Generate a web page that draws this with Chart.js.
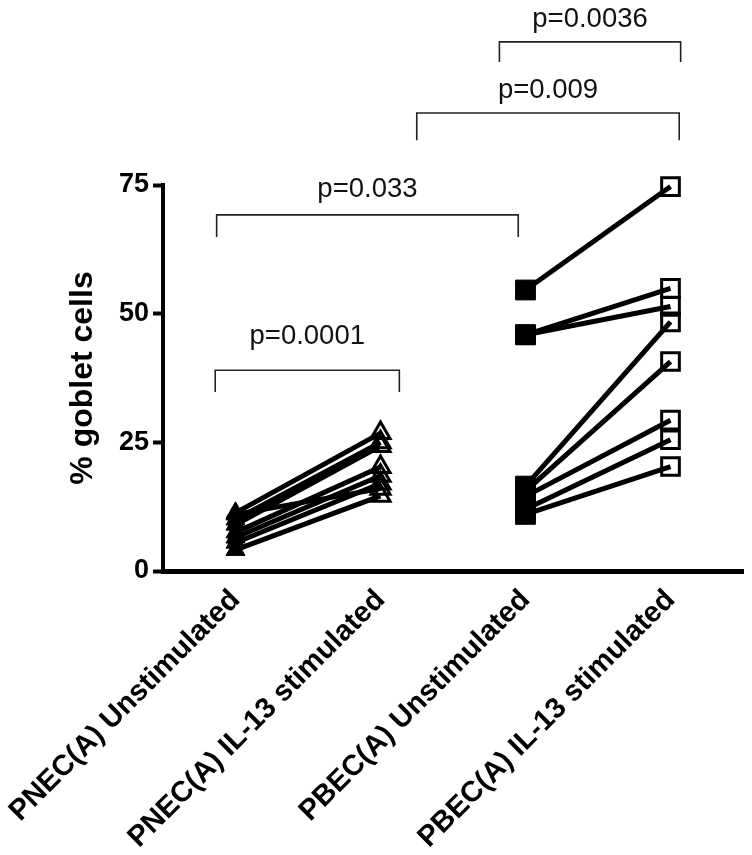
<!DOCTYPE html>
<html>
<head>
<meta charset="utf-8">
<script src="https://cdn.jsdelivr.net/npm/chart.js@4.4.1/dist/chart.umd.min.js"></script>
<style>
  html, body { margin: 0; padding: 0; background: #fff; overflow: hidden; width: 752px; height: 855px; }
  #wrap { position: absolute; left: 0; top: 0; width: 752px; height: 855px; }
  canvas { display: block; }
</style>
</head>
<body>
<div id="wrap"><canvas id="c"></canvas></div>
<script>
// ---- data ----
const categories = ["PNEC(A) Unstimulated", "PNEC(A) IL-13 stimulated", "PBEC(A) Unstimulated", "PBEC(A) IL-13 stimulated"];
const yTicks = [0, 25, 50, 75];

// paired donors, PNEC(A): unstimulated -> IL-13 stimulated (% goblet cells)
const pnecUnstim = [11.3, 10.0, 9.0, 11.0, 7.5, 6.5, 5.5, 4.1];
const pnecIL13   = [26.8, 25.0, 24.3, 16.0, 20.2, 18.5, 17.0, 14.6];

// paired donors, PBEC(A): unstimulated -> IL-13 stimulated (% goblet cells)
const pbecUnstim = [54.6, 45.9, 45.9, 16.5, 15.5, 14.5, 12.0, 11.0];
const pbecIL13   = [74.7, 54.9, 51.4, 48.4, 40.7, 29.3, 25.5, 20.3];

// significance brackets: from/to in category units, y in % units
const pLabels   = ["p=0.0001", "p=0.033", "p=0.009", "p=0.0036"];
const pFrom     = [-0.14, -0.13, 1.25, 1.82];
const pTo       = [1.13, 1.95, 3.06, 3.07];
const pLineY    = [39.0, 69.2, 89.0, 102.8];
const pDropY    = [34.8, 64.9, 83.7, 98.9];
const pTextY    = [45.5, 74.2, 93.3, 107.2];

// ---- build datasets ----
const datasets = [];
pnecUnstim.forEach((u, i) => {
  datasets.push({
    data: [u, pnecIL13[i], null, null],
    clip: false, pointStyle: 'triangle', pointRadius: 11,
    pointBorderWidth: [1, 3, 1, 1],
    pointBackgroundColor: ['#000', 'rgba(255,255,255,0)', '#000', '#000'],
    pointBorderColor: '#000', borderColor: '#000', borderWidth: 5, pointHoverRadius: 11
  });
});
pbecUnstim.forEach((u, i) => {
  datasets.push({
    data: [null, null, u, pbecIL13[i]],
    clip: false, pointStyle: 'rect', pointRadius: [13, 13, 14, 12.5],
    pointBorderWidth: [1, 1, 1, 3],
    pointBackgroundColor: ['#000', '#000', '#000', 'rgba(255,255,255,0)'],
    pointBorderColor: '#000', borderColor: '#000', borderWidth: 5, pointHoverRadius: 13
  });
});

// keep the x axis running to near the right edge, as in the original figure
const RIGHT_GAP = 9;
const widenPlugin = {
  id: 'widen',
  afterLayout(chart) {
    const xs = chart.scales.x;
    const target = chart.width - RIGHT_GAP;
    chart.chartArea.right = target;
    chart.chartArea.width = target - chart.chartArea.left;
    xs.right = target;
    xs.width = target - xs.left;
    xs.configure();
  }
};

const bracketPlugin = {
  id: 'brackets',
  afterDatasetsDraw(chart) {
    const ctx = chart.ctx;
    const xs = chart.scales.x, ys = chart.scales.y;
    ctx.save();
    ctx.strokeStyle = '#222'; ctx.lineWidth = 1.6; ctx.fillStyle = '#111';
    ctx.font = '27.5px "Liberation Sans", Arial, sans-serif';
    ctx.textAlign = 'center'; ctx.textBaseline = 'middle';
    pLabels.forEach((lab, i) => {
      const x1 = xs.getPixelForValue(pFrom[i]);
      const x2 = xs.getPixelForValue(pTo[i]);
      const yl = ys.getPixelForValue(pLineY[i]);
      const yd = ys.getPixelForValue(pDropY[i]);
      ctx.beginPath();
      ctx.moveTo(x1, yd); ctx.lineTo(x1, yl); ctx.lineTo(x2, yl); ctx.lineTo(x2, yd);
      ctx.stroke();
      ctx.fillText(lab, (x1 + x2) / 2, ys.getPixelForValue(pTextY[i]));
    });
    ctx.restore();
  }
};

new Chart(document.getElementById('c'), {
  type: 'line',
  data: { labels: categories, datasets },
  options: {
    responsive: true, maintainAspectRatio: false, animation: false, spanGaps: false,
    layout: { padding: { top: 185, right: RIGHT_GAP, left: 0, bottom: 0 } },
    plugins: { legend: { display: false }, tooltip: { enabled: false } },
    scales: {
      x: {
        type: 'category', offset: true,
        grid: { display: false },
        border: { display: true, color: '#000', width: 5 },
        ticks: { autoSkip: false, minRotation: 45, maxRotation: 45, padding: 4, color: '#000',
          font: { family: '"Liberation Sans", Arial, sans-serif', size: 29, weight: 'bold' } },
        afterFit(scale) { scale.height = 855 - 571; scale.paddingLeft = 0; scale.paddingRight = 0; }
      },
      y: {
        min: 0, max: 75,
        afterBuildTicks(scale) { scale.ticks = yTicks.map(v => ({ value: v })); },
        grid: { display: true, drawOnChartArea: false, drawTicks: true, tickLength: 10, tickWidth: 4, tickColor: '#000' },
        border: { display: true, color: '#000', width: 4 },
        ticks: { padding: 4, color: '#000',
          font: { family: '"Liberation Sans", Arial, sans-serif', size: 27, weight: 'bold' } },
        title: { display: true, text: '% goblet cells', color: '#000', padding: { top: 64, bottom: 0 },
          font: { family: '"Liberation Sans", Arial, sans-serif', size: 32, weight: 'bold' } },
        afterFit(scale) { scale.width = 163; }
      }
    }
  },
  plugins: [widenPlugin, bracketPlugin]
});
</script>
</body>
</html>
